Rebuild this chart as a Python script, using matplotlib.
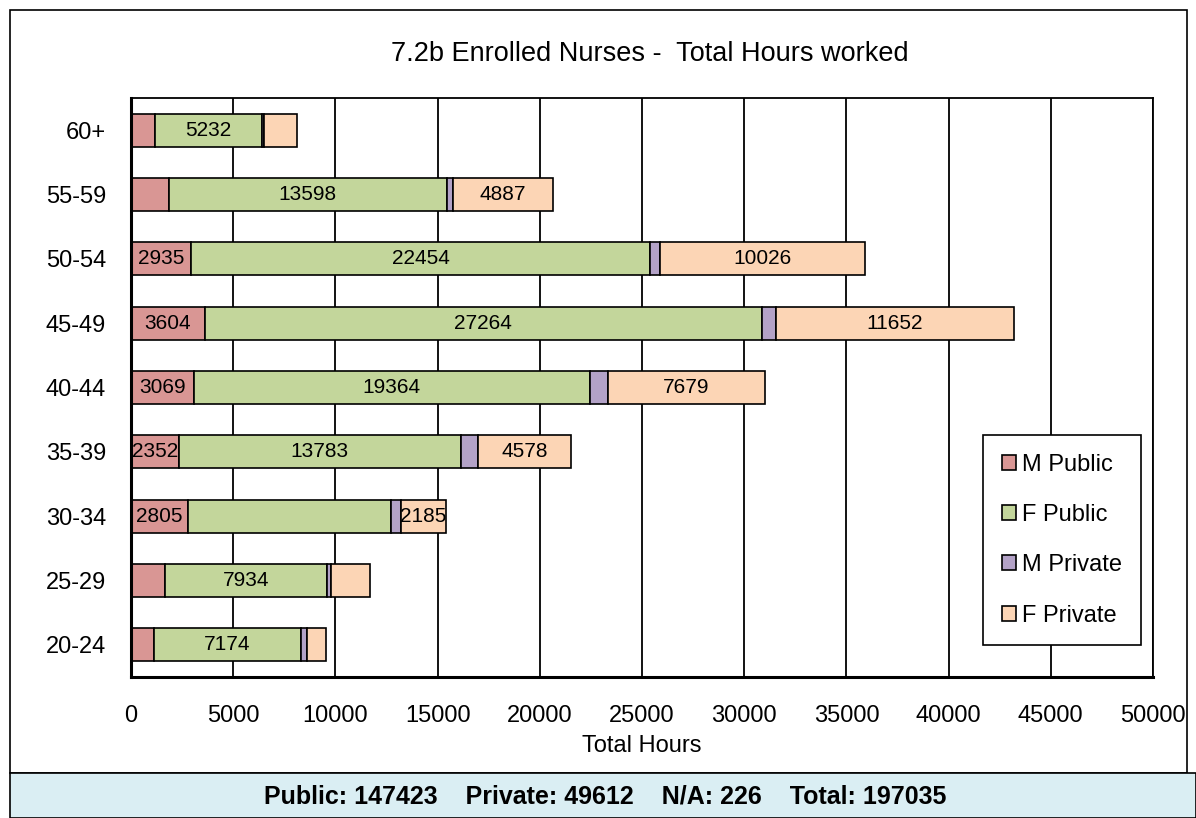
import matplotlib.pyplot as plt
from matplotlib.patches import Rectangle, Patch

plt.rcParams['font.family'] = ['Liberation Sans', 'DejaVu Sans']

ages = ["20-24", "25-29", "30-34", "35-39", "40-44", "45-49", "50-54", "55-59", "60+"]

m_public = [1120, 1669, 2805, 2352, 3069, 3604, 2935, 1856, 1181]
f_public = [7174, 7934, 9900, 13783, 19364, 27264, 22454, 13598, 5232]
m_private = [330, 190, 520, 834, 886, 684, 482, 300, 94]
f_private = [900, 1880, 2185, 4578, 7679, 11652, 10026, 4887, 1630]

# which segments carry a value label
show_m_public = [0, 0, 1, 1, 1, 1, 1, 0, 0]
show_f_public = [1, 1, 0, 1, 1, 1, 1, 1, 1]
show_m_private = [0, 0, 0, 0, 0, 0, 0, 0, 0]
show_f_private = [0, 0, 1, 1, 1, 1, 1, 1, 0]

series = [
    ("M Public", m_public, "#D99694", show_m_public),
    ("F Public", f_public, "#C3D69B", show_f_public),
    ("M Private", m_private, "#B3A2C7", show_m_private),
    ("F Private", f_private, "#FCD5B5", show_f_private),
]

W, H = 1196, 818
FOOT = 773
fig = plt.figure(figsize=(W / 100, H / 100), dpi=100)

# outer chart frame and footer band
fig.patches.append(Rectangle((10 / W, (H - FOOT) / H), 1177 / W, (FOOT - 10) / H,
                             transform=fig.transFigure, fill=False,
                             edgecolor="black", lw=1.2))
fig.patches.append(Rectangle((10 / W, 0), (W - 10) / W, (H - FOOT) / H,
                             transform=fig.transFigure, facecolor="#DAEEF3",
                             edgecolor="black", lw=1.2))

ax = fig.add_axes([131 / W, (H - 677) / H, (1153 - 131) / W, (677 - 98) / H])
ax.set_axisbelow(True)

left = [0] * len(ages)
handles = []
for name, vals, color, mask in series:
    bars = ax.barh(ages, vals, left=left, height=0.51, color=color,
                   edgecolor="black", linewidth=1.2)
    labels = [str(v) if m else "" for v, m in zip(vals, mask)]
    ax.bar_label(bars, labels=labels, label_type="center", fontsize=15)
    left = [a + b for a, b in zip(left, vals)]
    handles.append(Patch(facecolor=color, edgecolor="black", linewidth=1.2, label=name))

ax.set_xlim(0, 50000)
ax.set_ylim(-0.5, len(ages) - 0.5)
ax.set_xticks(range(0, 50001, 5000))
ax.grid(axis="x", color="black", linewidth=1.3)
ax.tick_params(length=0, labelsize=17)
ax.tick_params(axis="y", pad=18)
ax.tick_params(axis="x", pad=20)
for s in ax.spines.values():
    s.set_color("black")
    s.set_linewidth(1.3)
ax.spines["left"].set_linewidth(2.2)
ax.spines["bottom"].set_linewidth(2.2)
ax.set_xlabel("Total Hours", fontsize=17, labelpad=6)

fig.text(650 / W, 1 - 54 / H, "7.2b Enrolled Nurses -  Total Hours worked",
         ha="center", va="center", fontsize=19.5)
fig.text(605 / W, 1 - 797 / H,
         "Public: 147423    Private: 49612    N/A: 226    Total: 197035",
         ha="center", va="center", fontsize=18, fontweight="bold")

fig.legend(handles=handles, loc="center",
           bbox_to_anchor=((983 + 1141) / 2 / W, 1 - 540 / H),
           fontsize=17, frameon=True, fancybox=False, edgecolor="black",
           framealpha=1, handlelength=0.6, handleheight=0.6, handletextpad=0.25,
           labelspacing=1.2, borderpad=0.8).get_frame().set_linewidth(1.2)

fig.savefig("out.png", dpi=100)
